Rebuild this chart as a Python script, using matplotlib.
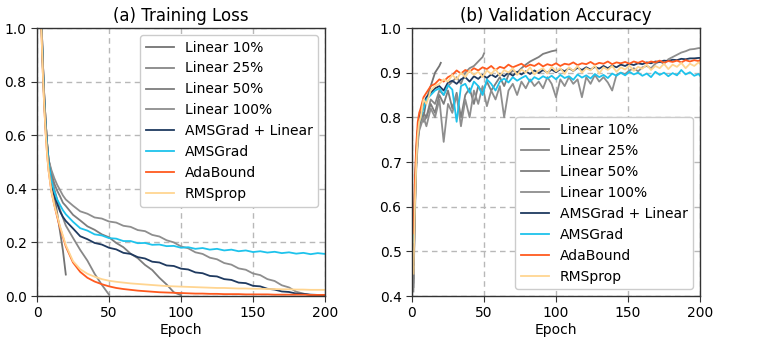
import matplotlib
matplotlib.use("Agg")
import matplotlib.pyplot as plt

# ---------------- data ----------------
labels = ["Linear 10%", "Linear 25%", "Linear 50%", "Linear 100%",
          "AMSGrad + Linear", "AMSGrad", "AdaBound", "RMSprop"]
colors = ["#737373", "#878787", "#7d7d7d", "#8e8e8e",
          "#1f3a60", "#1ec3ec", "#ff5a1f", "#ffd591"]
budgets = [20, 50, 100, 200, 200, 200, 200, 200]

def loss_grid(n):
    g = [1, 2, 3, 4, 5, 6, 7, 8, 10, 12, 14, 16, 18, 20]
    if n > 20:
        g += list(range(25, n, 5)) + [n]
    return g

def acc_grid(n):
    return [1, 2, 3, 4, 5, 6, 8] + list(range(10, n, 3)) + [n]

loss_lin10 = [2.0, 1.4, 1.05, 0.88, 0.75, 0.65, 0.57, 0.51, 0.44, 0.375, 0.31, 0.24, 0.17, 0.08]
loss_lin25 = [2.0, 1.4, 1.05, 0.88, 0.75, 0.65, 0.57, 0.51, 0.45, 0.40, 0.36, 0.322, 0.292, 0.263,
              0.217, 0.172, 0.132, 0.083, 0.042, 0.005]
loss_lin50 = [2.0, 1.4, 1.05, 0.88, 0.75, 0.65, 0.57, 0.51, 0.46, 0.42, 0.393, 0.372, 0.348, 0.336,
              0.303, 0.282, 0.26, 0.247, 0.23, 0.219, 0.198, 0.182, 0.158, 0.141, 0.116, 0.097,
              0.068, 0.043, 0.014, 0.003]
loss_lin100 = [2.0, 1.4, 1.05, 0.88, 0.75, 0.65, 0.57, 0.51, 0.47, 0.44, 0.415, 0.395, 0.375, 0.36,
               0.337, 0.316, 0.307, 0.293, 0.289, 0.278, 0.274, 0.262, 0.258, 0.246, 0.242, 0.228,
               0.222, 0.208, 0.2, 0.185, 0.178, 0.163, 0.157, 0.143, 0.137, 0.123, 0.117, 0.103,
               0.098, 0.084, 0.078, 0.063, 0.056, 0.04, 0.032, 0.016, 0.009, 0.003, 0.002, 0.002]
loss_amsl = [2.0, 1.38, 1.03, 0.86, 0.73, 0.63, 0.56, 0.50, 0.42, 0.375, 0.345, 0.315, 0.295, 0.28,
             0.252, 0.223, 0.212, 0.198, 0.192, 0.18, 0.174, 0.161, 0.157, 0.145, 0.14, 0.128,
             0.125, 0.114, 0.112, 0.102, 0.099, 0.088, 0.085, 0.075, 0.073, 0.063, 0.06, 0.05,
             0.048, 0.038, 0.036, 0.027, 0.024, 0.017, 0.015, 0.009, 0.008, 0.005, 0.004, 0.003]
loss_ams = [2.0, 1.38, 1.03, 0.86, 0.73, 0.63, 0.56, 0.50, 0.43, 0.39, 0.36, 0.34, 0.32, 0.305,
            0.277, 0.253, 0.244, 0.23, 0.226, 0.216, 0.214, 0.205, 0.205, 0.197, 0.198, 0.191,
            0.192, 0.186, 0.187, 0.18, 0.182, 0.176, 0.179, 0.173, 0.176, 0.17, 0.173, 0.167,
            0.17, 0.164, 0.167, 0.162, 0.165, 0.16, 0.163, 0.158, 0.161, 0.156, 0.16, 0.157]
loss_adab = [2.0, 1.35, 1.0, 0.84, 0.71, 0.61, 0.53, 0.47, 0.39, 0.34, 0.295, 0.255, 0.22, 0.185,
             0.125, 0.09, 0.068, 0.054, 0.044, 0.036, 0.03, 0.026, 0.023, 0.02, 0.018, 0.016,
             0.014, 0.013, 0.012, 0.011, 0.01, 0.009, 0.009, 0.008, 0.008, 0.007, 0.007, 0.007,
             0.006, 0.006, 0.006, 0.006, 0.005, 0.005, 0.005, 0.005, 0.005, 0.004, 0.004, 0.004]
loss_rms = [2.0, 1.35, 1.0, 0.84, 0.71, 0.61, 0.53, 0.47, 0.39, 0.34, 0.30, 0.26, 0.225, 0.19,
            0.13, 0.10, 0.083, 0.072, 0.063, 0.057, 0.053, 0.05, 0.047, 0.045, 0.043, 0.041,
            0.039, 0.037, 0.036, 0.035, 0.034, 0.033, 0.032, 0.031, 0.03, 0.03, 0.029, 0.028,
            0.028, 0.027, 0.027, 0.026, 0.026, 0.025, 0.025, 0.024, 0.024, 0.023, 0.023, 0.023]

acc_lin10 = [0.42, 0.60, 0.70, 0.76, 0.78, 0.80, 0.80, 0.84, 0.87, 0.90, 0.915, 0.922]
acc_lin25 = [0.44, 0.61, 0.71, 0.75, 0.78, 0.80, 0.79,
             0.80, 0.84, 0.83, 0.86, 0.85, 0.87, 0.88, 0.89, 0.875, 0.90, 0.91, 0.915, 0.925, 0.935,
             0.943]
acc_lin50 = [0.43, 0.60, 0.70, 0.75, 0.78, 0.79, 0.81,
             0.80, 0.83, 0.81, 0.85, 0.83, 0.86, 0.82, 0.855, 0.80, 0.85, 0.865, 0.83, 0.87, 0.855,
             0.88, 0.86, 0.875, 0.89, 0.87, 0.895, 0.905, 0.90, 0.91, 0.918, 0.925, 0.93, 0.935,
             0.942, 0.945, 0.948,
             0.95]
acc_lin100 = [0.41, 0.58, 0.69, 0.74, 0.77, 0.78, 0.80,
              0.78, 0.82, 0.80, 0.84, 0.745, 0.83, 0.81, 0.85, 0.78, 0.84, 0.80,
              0.86, 0.83, 0.87, 0.825, 0.86, 0.84, 0.87, 0.80, 0.86, 0.875, 0.85, 0.88, 0.865,
              0.885, 0.87, 0.88, 0.865, 0.89, 0.875, 0.845, 0.885, 0.87, 0.89, 0.875, 0.885,
              0.845, 0.89, 0.875, 0.895, 0.88, 0.89, 0.878, 0.86, 0.895, 0.90, 0.897, 0.905,
              0.91, 0.903, 0.912, 0.915, 0.91, 0.92, 0.925, 0.92, 0.93, 0.935, 0.94, 0.945,
              0.948, 0.952, 0.953, 0.955,
              0.955]
acc_amsl = [0.47, 0.62, 0.72, 0.77, 0.80, 0.81, 0.83,
            0.845, 0.855, 0.865, 0.87, 0.86, 0.878, 0.882, 0.875, 0.885, 0.89, 0.88,
            0.892, 0.886, 0.895, 0.888, 0.896, 0.89, 0.898, 0.892, 0.90, 0.893, 0.902, 0.896,
            0.903, 0.897, 0.905, 0.899, 0.906, 0.90, 0.907, 0.901, 0.908, 0.903, 0.91, 0.904,
            0.911, 0.906, 0.912, 0.907, 0.913, 0.909, 0.915, 0.91, 0.916, 0.912, 0.918, 0.915,
            0.92, 0.917, 0.921, 0.919, 0.923, 0.921, 0.925, 0.924, 0.927, 0.926, 0.929, 0.928,
            0.931, 0.93, 0.932, 0.932, 0.933,
            0.933]
acc_ams = [0.52, 0.64, 0.73, 0.77, 0.79, 0.80, 0.82,
           0.84, 0.85, 0.86, 0.865, 0.85, 0.872, 0.862, 0.79, 0.87, 0.875, 0.855,
           0.88, 0.87, 0.85, 0.885, 0.875, 0.86, 0.88, 0.887, 0.878, 0.89, 0.882, 0.888,
           0.893, 0.88, 0.89, 0.885, 0.892, 0.887, 0.893, 0.885, 0.895, 0.888, 0.892, 0.884,
           0.896, 0.889, 0.894, 0.887, 0.897, 0.89, 0.895, 0.888, 0.898, 0.893, 0.90, 0.894,
           0.902, 0.896, 0.90, 0.893, 0.898, 0.89, 0.902, 0.895, 0.90, 0.892, 0.899, 0.894,
           0.906, 0.896, 0.901, 0.893, 0.897,
           0.893]
acc_adab = [0.54, 0.66, 0.74, 0.79, 0.81, 0.82, 0.845,
            0.855, 0.87, 0.875, 0.885, 0.88, 0.89, 0.895, 0.905, 0.898, 0.906, 0.902,
            0.91, 0.905, 0.912, 0.908, 0.915, 0.906, 0.913, 0.91, 0.918, 0.912, 0.916, 0.92,
            0.913, 0.918, 0.915, 0.921, 0.914, 0.919, 0.916, 0.921, 0.915, 0.92, 0.918, 0.923,
            0.917, 0.921, 0.919, 0.924, 0.918, 0.922, 0.92, 0.925, 0.919, 0.923, 0.921, 0.924,
            0.92, 0.925, 0.922, 0.926, 0.921, 0.925, 0.923, 0.927, 0.922, 0.926, 0.924, 0.927,
            0.923, 0.928, 0.925, 0.928, 0.926,
            0.928]
acc_rms = [0.45, 0.60, 0.70, 0.76, 0.79, 0.80, 0.84,
           0.83, 0.86, 0.87, 0.875, 0.885, 0.88, 0.895, 0.885, 0.90, 0.89, 0.905,
           0.895, 0.902, 0.89, 0.905, 0.897, 0.908, 0.893, 0.906, 0.90, 0.91, 0.895, 0.907,
           0.90, 0.912, 0.896, 0.905, 0.91, 0.898, 0.913, 0.903, 0.91, 0.897, 0.912, 0.904,
           0.915, 0.90, 0.91, 0.905, 0.916, 0.898, 0.912, 0.906, 0.915, 0.902, 0.912, 0.907,
           0.916, 0.904, 0.913, 0.909, 0.918, 0.906, 0.915, 0.91, 0.92, 0.908, 0.918, 0.913,
           0.922, 0.91, 0.92, 0.915, 0.923,
           0.92]

loss_series = [loss_lin10, loss_lin25, loss_lin50, loss_lin100,
               loss_amsl, loss_ams, loss_adab, loss_rms]
acc_series = [acc_lin10, acc_lin25, acc_lin50, acc_lin100,
              acc_amsl, acc_ams, acc_adab, acc_rms]

# ---------------- plot ----------------
plt.rcParams["font.family"] = ["DejaVu Sans"]
plt.rcParams["font.size"] = 10

fig = plt.figure(figsize=(7.61, 3.49), dpi=100)
ax1 = fig.add_axes([37 / 761, 53 / 349, 288 / 761, 268 / 349])
ax2 = fig.add_axes([412 / 761, 53 / 349, 288 / 761, 268 / 349])

for lab, col, n, ls, acs in zip(labels, colors, budgets, loss_series, acc_series):
    ax1.plot(loss_grid(n), ls, color=col, lw=1.3, label=lab)
    ax2.plot(acc_grid(n), acs, color=col, lw=1.3, label=lab)

for ax in (ax1, ax2):
    ax.set_xlim(0, 200)
    ax.set_xticks([0, 50, 100, 150, 200])
    ax.grid(True, linestyle=(0, (4, 3)), color="#b8b8b8", lw=1.0)
    ax.set_axisbelow(True)
    ax.set_xlabel("Epoch", fontsize=10, labelpad=2)
    for sp in ax.spines.values():
        sp.set_color("#333333")
        sp.set_linewidth(1.0)
    ax.tick_params(labelsize=10, length=4, color="#333333")

ax1.set_ylim(0, 1.0)
ax1.set_yticks([0.0, 0.2, 0.4, 0.6, 0.8, 1.0])
ax1.set_title("(a) Training Loss", fontsize=12, pad=5)
ax1.legend(loc="upper right", fontsize=10, framealpha=1.0, edgecolor="#cccccc")

ax2.set_ylim(0.4, 1.0)
ax2.set_yticks([0.4, 0.5, 0.6, 0.7, 0.8, 0.9, 1.0])
ax2.set_title("(b) Validation Accuracy", fontsize=12, pad=5)
ax2.legend(loc="lower right", fontsize=10, framealpha=1.0, edgecolor="#cccccc")

fig.savefig("out.png", dpi=100)
